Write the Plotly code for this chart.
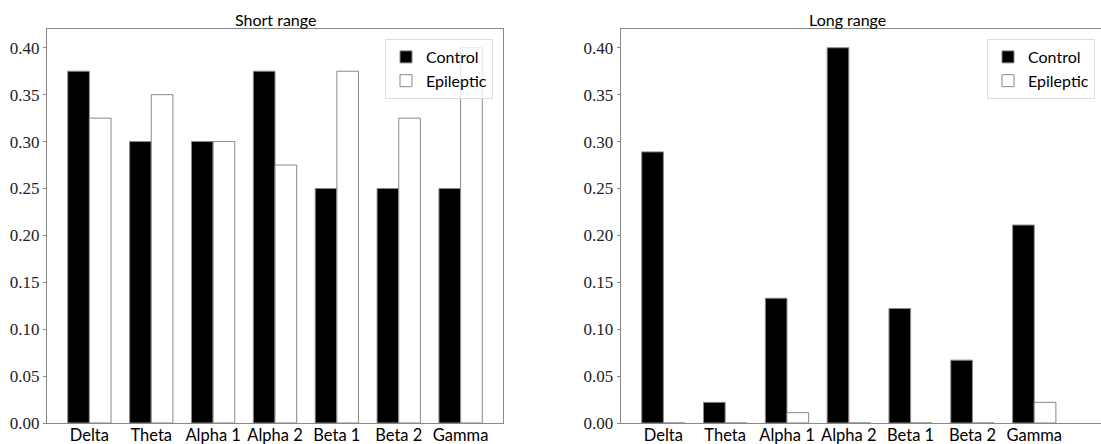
import plotly.graph_objects as go

bands = ["Delta", "Theta", "Alpha 1", "Alpha 2", "Beta 1", "Beta 2", "Gamma"]
short_control = [0.375, 0.300, 0.300, 0.375, 0.250, 0.250, 0.250]
short_epileptic = [0.325, 0.350, 0.300, 0.275, 0.375, 0.325, 0.400]
long_control = [0.289, 0.022, 0.133, 0.400, 0.122, 0.067, 0.211]
long_epileptic = [0.0, 0.0, 0.011, 0.0, 0.0, 0.0, 0.022]
titles = ["Short range", "Long range"]
y_ticks = [0.0, 0.05, 0.10, 0.15, 0.20, 0.25, 0.30, 0.35, 0.40]

W, H = 1101, 444
EDGE = "#888888"
SANS = "Lato"
SERIF = "Liberation Serif, DejaVu Serif, serif"

fig = go.Figure()

def add_pair(ctrl, epi, xa, ya, leg):
    fig.add_trace(go.Bar(x=bands, y=ctrl, name="Control", xaxis=xa, yaxis=ya,
                         marker=dict(color="black", line=dict(color=EDGE, width=1)),
                         legend=leg))
    fig.add_trace(go.Bar(x=bands, y=epi, name="Epileptic", xaxis=xa, yaxis=ya,
                         marker=dict(color="white", line=dict(color=EDGE, width=1)),
                         legend=leg))

add_pair(short_control, short_epileptic, "x", "y", "legend")
add_pair(long_control, long_epileptic, "x2", "y2", "legend2")

y0 = (H - 423) / H
y1 = (H - 29) / H

xcommon = dict(type="category", showline=True, linecolor=EDGE, linewidth=1,
               ticks="", showgrid=False, zeroline=False, automargin=False,
               ticklabelstandoff=-3,
               tickfont=dict(family=SANS, size=16.5, color="black"))
ycommon = dict(range=[0, 0.42], tickvals=y_ticks, tickformat=".2f",
               showline=True, linecolor=EDGE, linewidth=1, automargin=False,
               ticks="outside", ticklen=3, tickcolor=EDGE, showgrid=False, zeroline=False,
               tickfont=dict(family=SERIF, size=17, color="#222222"))

legend_common = dict(y=1 - 39 / H, xanchor="right", yanchor="top",
                     bgcolor="rgba(255,255,255,0.8)", bordercolor="#dddddd", borderwidth=1,
                     font=dict(family=SANS, size=16, color="black"), tracegroupgap=2)

fig.update_layout(
    width=W, height=H,
    margin=dict(l=0, r=0, t=0, b=0),
    paper_bgcolor="white", plot_bgcolor="white",
    barmode="group", bargap=0.3, bargroupgap=0.0,
    xaxis=dict(domain=[47 / W, 503 / W], range=[-0.685, 6.685], anchor="y",
               mirror=True, **xcommon),
    yaxis=dict(domain=[y0, y1], anchor="x", mirror=True, **ycommon),
    xaxis2=dict(domain=[620.7 / W, 1.0], range=[-0.69, 7.08], anchor="y2",
                mirror=True, **xcommon),
    yaxis2=dict(domain=[y0, y1], anchor="x2", mirror=False, **ycommon),
    legend=dict(x=493 / W, **legend_common),
    legend2=dict(x=1095 / W, **legend_common),
    showlegend=True,
    annotations=[
        dict(text=titles[0], x=275 / W, y=1 - 19 / H, xref="paper", yref="paper",
             xanchor="center", yanchor="middle", showarrow=False,
             font=dict(family=SANS, size=16, color="black")),
        dict(text=titles[1], x=847 / W, y=1 - 19 / H, xref="paper", yref="paper",
             xanchor="center", yanchor="middle", showarrow=False,
             font=dict(family=SANS, size=16, color="black")),
    ],
)

fig.write_html("out.html",
               config={"displayModeBar": False},
               post_script="document.body.style.margin='0';document.body.style.overflow='hidden';")
